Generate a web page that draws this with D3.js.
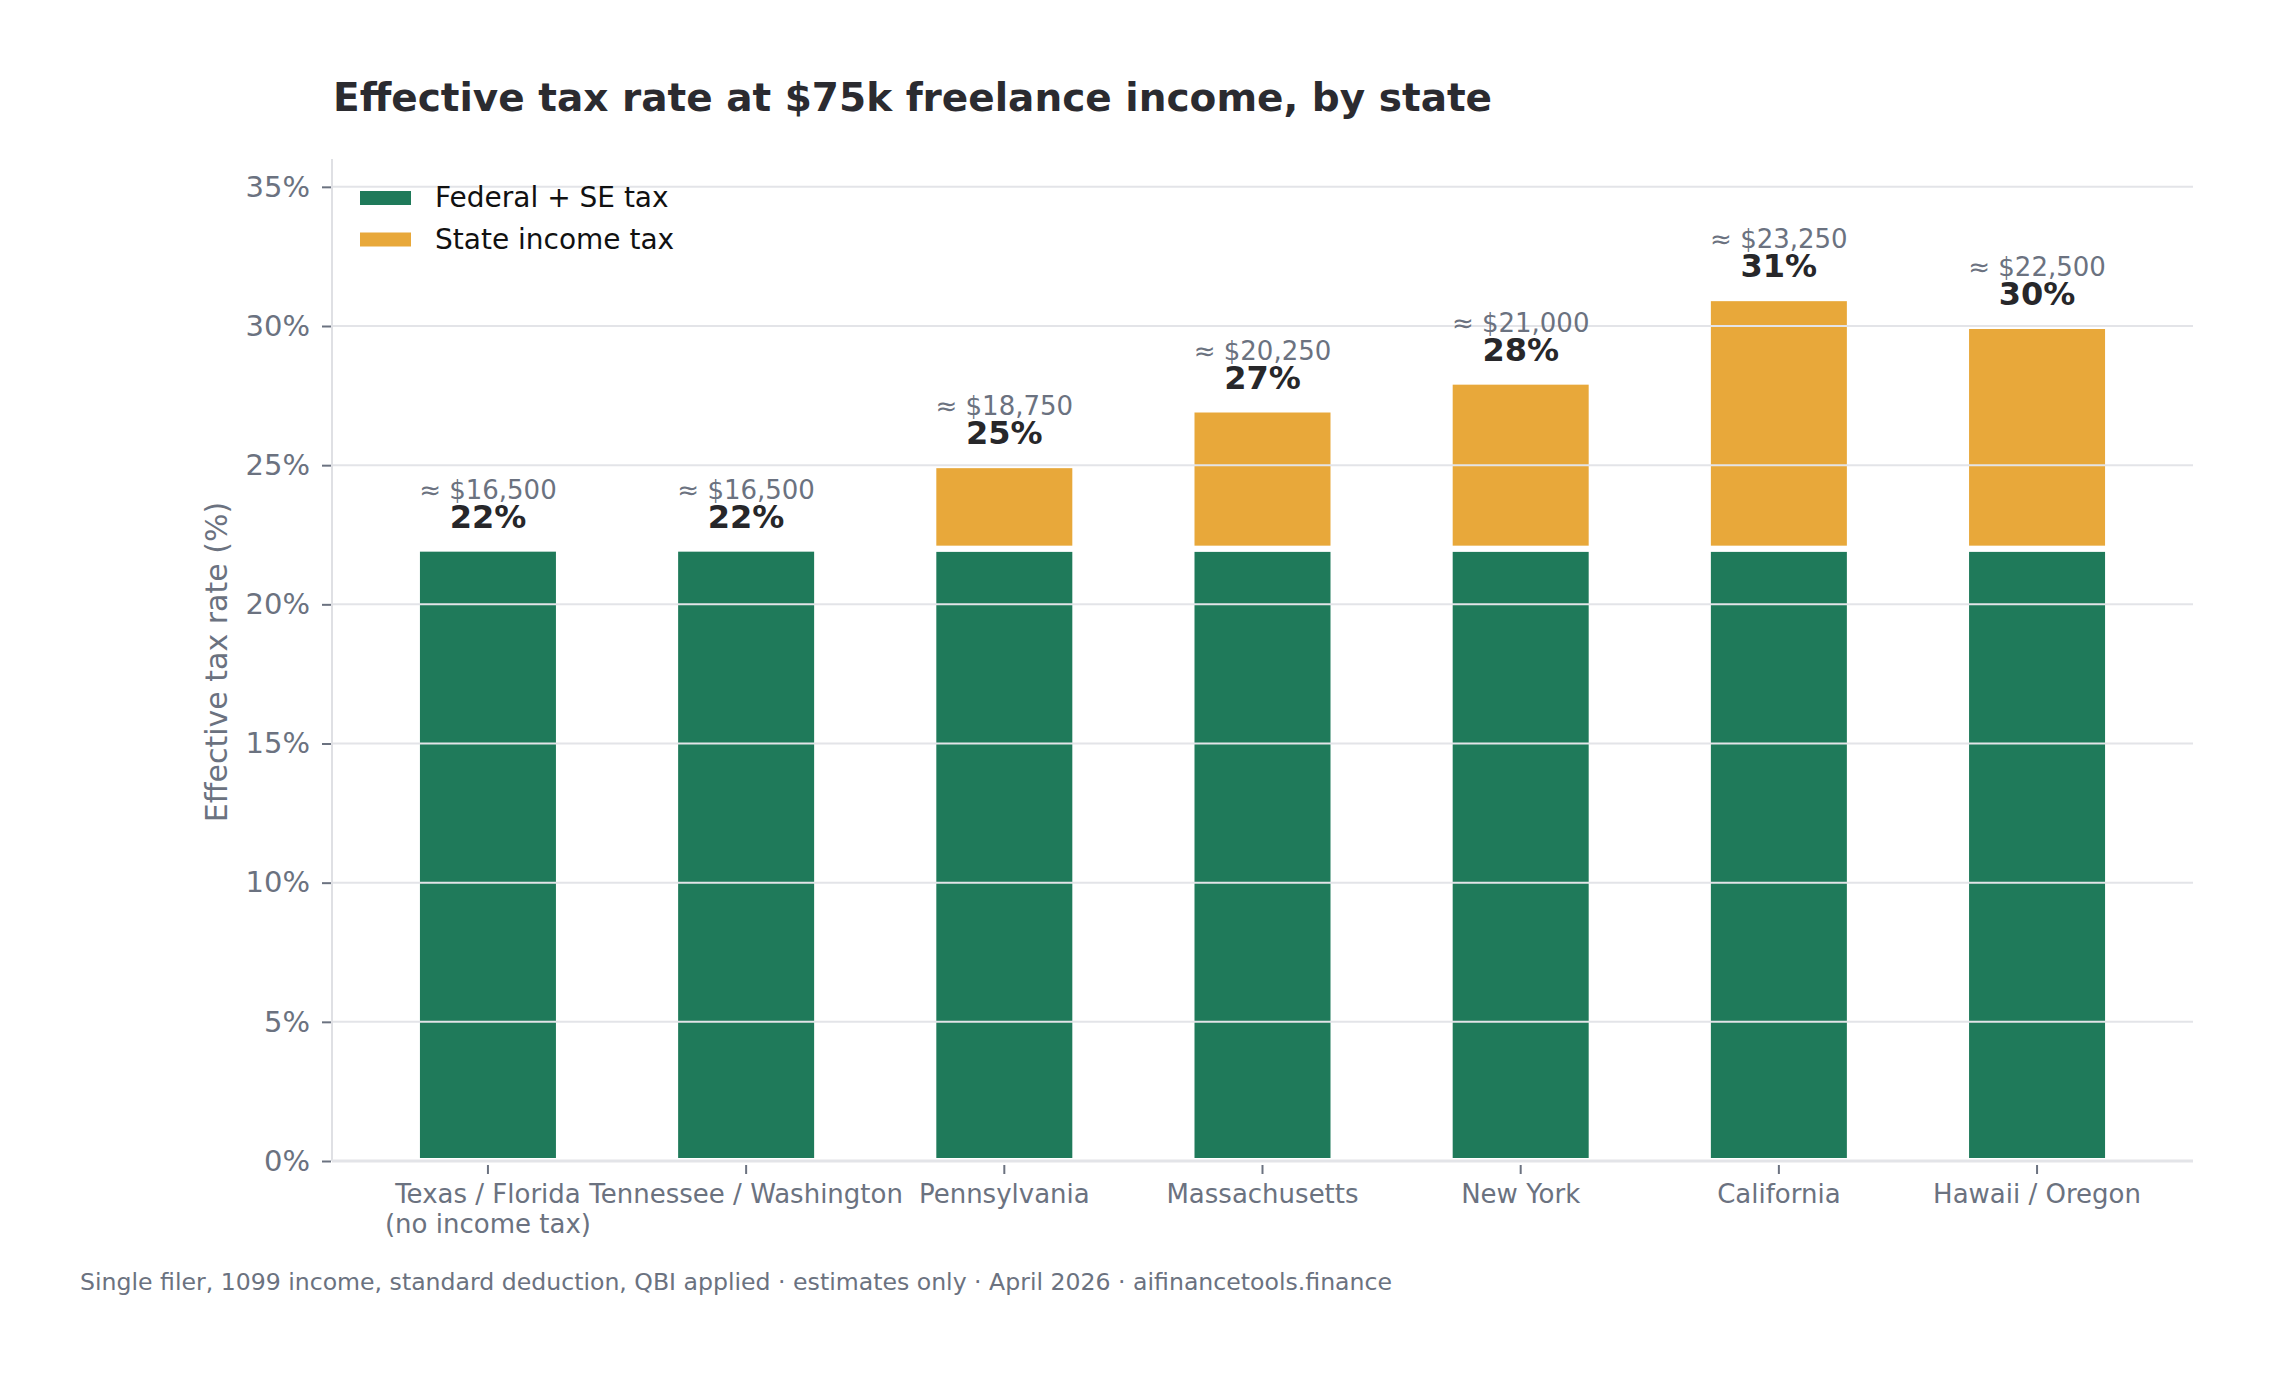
<!DOCTYPE html>
<html>
<head>
<meta charset="utf-8">
<script src="https://cdn.jsdelivr.net/npm/d3@7"></script>
<style>
  html, body { margin: 0; padding: 0; background: #fff; }
  text { font-family: "DejaVu Sans", sans-serif; }
</style>
</head>
<body>
<div id="chart"></div>
<script>
// values
var states = ["Texas / Florida\n(no income tax)", "Tennessee / Washington", "Pennsylvania",
              "Massachusetts", "New York", "California", "Hawaii / Oregon"];
var federalRate = [22, 22, 22, 22, 22, 22, 22];
var stateRate = [0, 0, 3, 5, 6, 9, 8];
var totalLabels = ["22%", "22%", "25%", "27%", "28%", "31%", "30%"];
var dollarLabels = ["≈ $16,500", "≈ $16,500", "≈ $18,750", "≈ $20,250", "≈ $21,000", "≈ $23,250", "≈ $22,500"];
var yTicks = [0, 5, 10, 15, 20, 25, 30, 35];
var seriesNames = ["Federal + SE tax", "State income tax"];

var W = 2272, H = 1376;
var margin = {top: 159, right: W - 2193, bottom: H - 1161, left: 332};
var width = W - margin.left - margin.right,
    height = H - margin.top - margin.bottom;

var green = "#1f7a5a", orange = "#e8a83a", gray = "#6b7280";

var svg = d3.select("#chart")
  .append("svg")
    .attr("width", W)
    .attr("height", H);

var g = svg.append("g")
    .attr("transform", "translate(" + margin.left + "," + margin.top + ")");

var x = d3.scaleBand()
    .domain(states)
    .range([0, width])
    .paddingInner(0.45)
    .paddingOuter(0.329);

var y = d3.scaleLinear()
    .domain([0, 36])
    .range([height, 0]);

// bars
var data = states.map(function(s, i) {
  return {state: s, fed: federalRate[i], st: stateRate[i], total: federalRate[i] + stateRate[i],
          pct: totalLabels[i], usd: dollarLabels[i]};
});

g.selectAll(".fed")
  .data(data)
  .enter()
  .append("rect")
    .attr("x", function(d) { return x(d.state); })
    .attr("y", function(d) { return y(d.fed); })
    .attr("width", x.bandwidth())
    .attr("height", function(d) { return height - y(d.fed); })
    .attr("fill", green)
    .attr("stroke", "#fff")
    .attr("stroke-width", 6);

g.selectAll(".st")
  .data(data.filter(function(d) { return d.st > 0; }))
  .enter()
  .append("rect")
    .attr("x", function(d) { return x(d.state); })
    .attr("y", function(d) { return y(d.total); })
    .attr("width", x.bandwidth())
    .attr("height", function(d) { return y(d.fed) - y(d.total); })
    .attr("fill", orange)
    .attr("stroke", "#fff")
    .attr("stroke-width", 6);

// gridlines drawn over the bars
g.selectAll(".grid")
  .data(yTicks.filter(function(t) { return t > 0; }))
  .enter()
  .append("line")
    .attr("x1", 0)
    .attr("x2", width)
    .attr("y1", function(d) { return y(d); })
    .attr("y2", function(d) { return y(d); })
    .attr("stroke", "#e3e4e8")
    .attr("stroke-width", 2);

// spines
g.append("line")
    .attr("x1", 0).attr("x2", 0).attr("y1", 0).attr("y2", height)
    .attr("stroke", "#dfe0e4").attr("stroke-width", 2);
g.append("line")
    .attr("x1", 0).attr("x2", width).attr("y1", height).attr("y2", height)
    .attr("stroke", "#e3e4e8").attr("stroke-width", 3);

// y axis
var yAxis = g.append("g")
    .call(d3.axisLeft(y).tickValues(yTicks).tickFormat(function(d) { return d + "%"; })
      .tickSize(9).tickPadding(13));
yAxis.select(".domain").remove();
yAxis.selectAll(".tick line").attr("stroke", gray).attr("stroke-width", 2)
    .attr("transform", "translate(-1,0)");
yAxis.selectAll(".tick text")
    .attr("fill", gray)
    .style("font-size", "29px")
    .style("font-family", "DejaVu Sans");

// x axis
var xAxis = g.append("g")
    .attr("transform", "translate(0," + height + ")")
    .call(d3.axisBottom(x).tickSize(0).tickFormat(""));
xAxis.select(".domain").remove();
xAxis.selectAll(".tick").append("line")
    .attr("y1", 4).attr("y2", 13)
    .attr("stroke", gray).attr("stroke-width", 2);
xAxis.selectAll(".tick").append("text")
    .attr("text-anchor", "middle")
    .attr("fill", gray)
    .style("font-size", "26px")
    .style("font-family", "DejaVu Sans")
    .each(function(d) {
      var lines = d.split("\n");
      var t = d3.select(this);
      lines.forEach(function(l, i) {
        t.append("tspan").attr("x", 0).attr("y", 42 + i * 30).text(l);
      });
    });

// value labels
g.selectAll(".usd")
  .data(data)
  .enter()
  .append("text")
    .attr("x", function(d) { return x(d.state) + x.bandwidth() / 2; })
    .attr("y", function(d) { return y(d.total) - 50; })
    .attr("text-anchor", "middle")
    .attr("fill", gray)
    .style("font-size", "26px")
    .text(function(d) { return d.usd; });

g.selectAll(".pct")
  .data(data)
  .enter()
  .append("text")
    .attr("x", function(d) { return x(d.state) + x.bandwidth() / 2; })
    .attr("y", function(d) { return y(d.total) - 21; })
    .attr("text-anchor", "middle")
    .attr("fill", "#27272a")
    .style("font-size", "32px")
    .style("font-weight", "bold")
    .text(function(d) { return d.pct; });

// legend
var legend = g.selectAll(".legend")
  .data(seriesNames)
  .enter()
  .append("g")
    .attr("transform", function(d, i) { return "translate(28," + (32 + i * 41.5) + ")"; });
legend.append("rect")
    .attr("width", 51).attr("height", 14)
    .attr("fill", function(d, i) { return i === 0 ? green : orange; });
legend.append("text")
    .attr("x", 75).attr("y", 16)
    .attr("fill", "#111")
    .style("font-size", "28px")
    .text(function(d) { return d; });

// y label
svg.append("text")
    .attr("transform", "translate(227,662) rotate(-90)")
    .attr("text-anchor", "middle")
    .attr("fill", gray)
    .style("font-size", "30px")
    .text("Effective tax rate (%)");

// title
svg.append("text")
    .attr("x", 333).attr("y", 111)
    .attr("fill", "#2b2b30")
    .style("font-size", "39px")
    .style("font-weight", "bold")
    .text("Effective tax rate at $75k freelance income, by state");

// footnote
svg.append("text")
    .attr("x", 80).attr("y", 1290)
    .attr("fill", gray)
    .style("font-size", "23.6px")
    .text("Single filer, 1099 income, standard deduction, QBI applied · estimates only · April 2026 · aifinancetools.finance");
</script>
</body>
</html>
